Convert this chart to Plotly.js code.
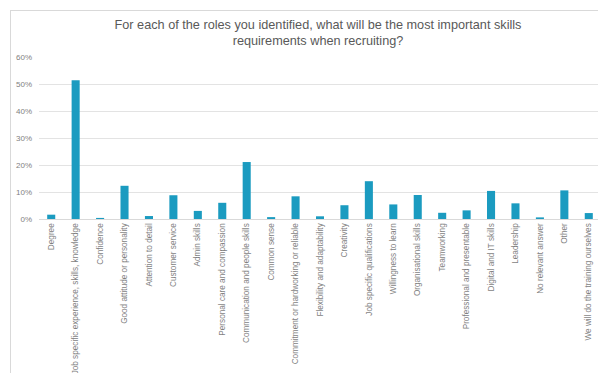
<!DOCTYPE html>
<html>
<head>
<meta charset="utf-8">
<script src="https://cdn.plot.ly/plotly-3.0.1.min.js"></script>
<style>
html,body{margin:0;padding:0;background:#fff;overflow:hidden;}
#wrap{position:relative;width:598px;height:373px;overflow:hidden;}
#chart{position:absolute;left:0;top:0;width:602px;height:373px;}
#frame{position:absolute;left:10px;top:10px;width:620px;height:420px;border:1px solid #d9d9d9;box-sizing:border-box;pointer-events:none;}
</style>
</head>
<body>
<div id="wrap"><div id="chart"></div><div id="frame"></div></div>
<script>
const categories = [
  "Degree",
  "Job specific experience, skills, knowledge",
  "Confidence",
  "Good attitude or personality",
  "Attention to detail",
  "Customer service",
  "Admin skills",
  "Personal care and compassion",
  "Communication and people skills",
  "Common sense",
  "Commitment or hardworking or reliable",
  "Flexibility and adaptability",
  "Creativity",
  "Job specific qualifications",
  "Willingness to learn",
  "Organisational skills",
  "Teamworking",
  "Professional and presentable",
  "Digital and IT skills",
  "Leadership",
  "No relevant answer",
  "Other",
  "We will do the training ourselves"
];
const values = [0.016, 0.514, 0.004, 0.123, 0.011, 0.088, 0.030, 0.060, 0.211, 0.007, 0.084, 0.010, 0.051, 0.140, 0.054, 0.089, 0.023, 0.032, 0.104, 0.058, 0.006, 0.106, 0.022];
const yTicks = [0, 0.1, 0.2, 0.3, 0.4, 0.5, 0.6];
const yTickLabels = ["0%", "10%", "20%", "30%", "40%", "50%", "60%"];
const titleText = "For each of the roles you identified, what will be the most important skills<br>requirements when recruiting?";

const trace = {
  type: "bar",
  x: categories,
  y: values,
  marker: {color: "#1b9bc0"},
  hoverinfo: "x+y"
};

const layout = {
  width: 602,
  height: 373,
  margin: {l: 39, r: 1, t: 57, b: 154},
  paper_bgcolor: "#ffffff",
  plot_bgcolor: "#ffffff",
  font: {family: "Liberation Sans, Arial, sans-serif", color: "#7f7f7f", size: 8},
  title: {
    text: titleText,
    font: {family: "Liberation Sans, Arial, sans-serif", size: 12.7, color: "#595959"},
    x: 318 / 602,
    xanchor: "center",
    xref: "container",
    y: 0.923,
    yanchor: "top",
    yref: "container"
  },
  bargap: 0.67,
  showlegend: false,
  xaxis: {
    type: "category",
    tickangle: -90,
    tickfont: {size: 8.2, color: "#7f7f7f"},
    showgrid: false,
    showline: true,
    linecolor: "#d9d9d9",
    linewidth: 1,
    ticks: "",
    automargin: false
  },
  yaxis: {
    range: [0, 0.6],
    tickvals: yTicks,
    ticktext: yTickLabels,
    tickfont: {size: 8, color: "#7f7f7f"},
    showgrid: true,
    gridcolor: "#e3e3e3",
    gridwidth: 1,
    zeroline: false,
    showline: false,
    ticks: "",
    ticklabelstandoff: 6,
    automargin: false
  }
};

Plotly.newPlot("chart", [trace], layout, {displayModeBar: false, staticPlot: true});
</script>
</body>
</html>
